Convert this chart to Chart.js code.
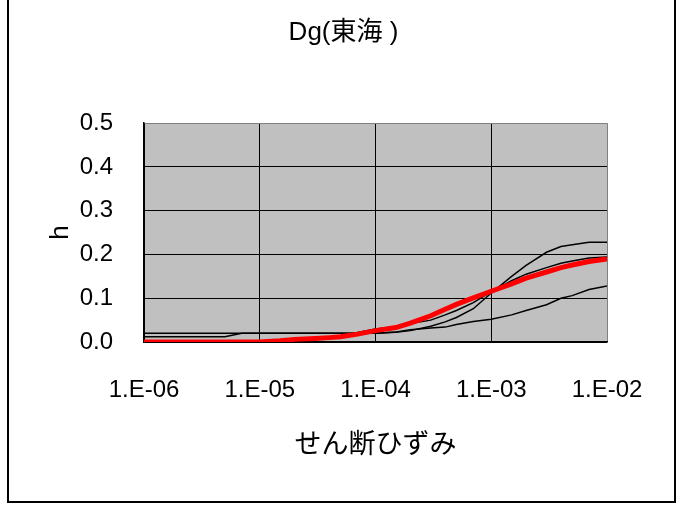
<!DOCTYPE html>
<html>
<head>
<meta charset="utf-8">
<script src="https://cdn.jsdelivr.net/npm/chart.js@4"></script>
<style>
  html, body { margin: 0; padding: 0; background: #fff; }
  #wrap { position: relative; width: 687px; height: 518px; }
  #frame { position: absolute; left: 7px; top: -4px; width: 665px; height: 503px; border: 2px solid #000; }
  canvas { position: absolute; left: 0; top: 0; }
</style>
</head>
<body>
<div id="wrap">
  <div id="frame"></div>
  <canvas id="chart" width="687" height="518"></canvas>
</div>
<script>
// せん断ひずみ (x) の値
const strain = [
  1e-6, 1.5e-6, 2e-6, 3e-6, 4e-6, 5e-6, 7e-6,
  1e-5, 1.5e-5, 2e-5, 3e-5, 4e-5, 5e-5, 7e-5,
  1e-4, 1.5e-4, 2e-4, 3e-4, 4e-4, 5e-4, 7e-4,
  1e-3, 1.5e-3, 2e-3, 3e-3, 4e-3, 5e-3, 7e-3,
  1e-2
];

// 減衰 h : 赤い太線 (平均)
const hMean = [
  0, 0, 0, 0, 0, 0, 0,
  0, 0.003, 0.006, 0.008, 0.010, 0.012, 0.018,
  0.026, 0.033, 0.043, 0.060, 0.075, 0.086, 0.101,
  0.116, 0.133, 0.146, 0.160, 0.170, 0.176, 0.184,
  0.190
];

// 黒い細線 (各試料)
const hSample1 = [
  0.012, 0.012, 0.012, 0.012, 0.012, 0.012, 0.02,
  0.02, 0.02, 0.02, 0.02, 0.02, 0.02, 0.02,
  0.02, 0.022, 0.026, 0.036, 0.046, 0.056, 0.076,
  0.112, 0.150, 0.175, 0.205, 0.218, 0.222, 0.228,
  0.228
];
const hSample2 = [
  0, 0, 0, 0, 0, 0, 0,
  0, 0.002, 0.004, 0.008, 0.011, 0.014, 0.022,
  0.030, 0.035, 0.042, 0.050, 0.062, 0.072, 0.090,
  0.115, 0.140, 0.155, 0.170, 0.180, 0.185, 0.192,
  0.194
];
const hSample3 = [
  0.02, 0.02, 0.02, 0.02, 0.02, 0.02, 0.02,
  0.02, 0.02, 0.02, 0.02, 0.02, 0.02, 0.02,
  0.02, 0.023, 0.028, 0.032, 0.034, 0.040, 0.047,
  0.052, 0.062, 0.072, 0.085, 0.100, 0.106, 0.120,
  0.128
];

// 目盛り
const xTicks = [1e-6, 1e-5, 1e-4, 1e-3, 1e-2];
const xTickLabels = ["1.E-06", "1.E-05", "1.E-04", "1.E-03", "1.E-02"];

const FONT = "'Liberation Sans', 'Noto Sans CJK JP', sans-serif";

const toPoints = (ys) => strain.map((x, i) => ({ x: x, y: ys[i] }));

// プロットエリアの灰色背景
const plotBg = {
  id: "plotBg",
  beforeDraw(chart) {
    const { ctx, chartArea: a } = chart;
    ctx.save();
    ctx.fillStyle = "#C0C0C0";
    ctx.fillRect(a.left, a.top, a.right - a.left, a.bottom - a.top);
    ctx.restore();
  }
};

new Chart(document.getElementById("chart"), {
  type: "line",
  data: {
    datasets: [
      { data: toPoints(hMean), borderColor: "#FF0000", borderWidth: 5, order: 0 },
      { data: toPoints(hSample1), borderColor: "#000", borderWidth: 1.5, order: 1 },
      { data: toPoints(hSample2), borderColor: "#000", borderWidth: 1.5, order: 2 },
      { data: toPoints(hSample3), borderColor: "#000", borderWidth: 1.5, order: 3 }
    ]
  },
  options: {
    responsive: false,
    animation: false,
    layout: { padding: 0 },
    elements: { point: { radius: 0 }, line: { tension: 0, fill: false } },
    plugins: {
      legend: { display: false },
      tooltip: { enabled: false },
      title: {
        display: true,
        text: "Dg(東海 )",
        color: "#000",
        font: { family: FONT, size: 26, weight: "normal" },
        padding: { top: 17, bottom: 75 }
      }
    },
    scales: {
      x: {
        type: "logarithmic",
        min: 1e-6,
        max: 1e-2,
        afterBuildTicks: (scale) => { scale.ticks = xTicks.map(v => ({ value: v })); },
        afterFit: (scale) => { scale.height = 176; },
        ticks: {
          color: "#000",
          padding: 34,
          maxRotation: 0,
          autoSkip: false,
          font: { family: FONT, size: 24 },
          callback: (value, index) => xTickLabels[index]
        },
        grid: {
          drawTicks: false,
          lineWidth: 1,
          color: (ctx) => (ctx.tick && ctx.tick.value === 1e-2 ? "#808080" : "#000")
        },
        border: { color: "#000", width: 1.5 },
        title: {
          display: true,
          text: "せん断ひずみ",
          color: "#000",
          font: { family: FONT, size: 27 },
          padding: { top: 0, bottom: 56 }
        }
      },
      y: {
        min: 0,
        max: 0.5,
        afterFit: (scale) => { scale.width = 144; },
        ticks: {
          stepSize: 0.1,
          color: "#000",
          padding: 31,
          font: { family: FONT, size: 24 },
          callback: (value) => value.toFixed(1)
        },
        grid: {
          drawTicks: false,
          lineWidth: 1,
          color: (ctx) => (ctx.tick && Math.abs(ctx.tick.value - 0.5) < 1e-9 ? "#808080" : "#000")
        },
        border: { color: "#000", width: 1.5 },
        title: {
          display: true,
          text: "h",
          color: "#000",
          font: { family: FONT, size: 26 },
          padding: { top: 45, bottom: 0 }
        }
      },
      // 右側の余白用 (表示なし)
      yRight: {
        position: "right",
        display: true,
        afterFit: (scale) => { scale.width = 80; },
        ticks: { display: false },
        grid: { display: false },
        border: { display: false }
      }
    }
  },
  plugins: [plotBg]
});
</script>
</body>
</html>
